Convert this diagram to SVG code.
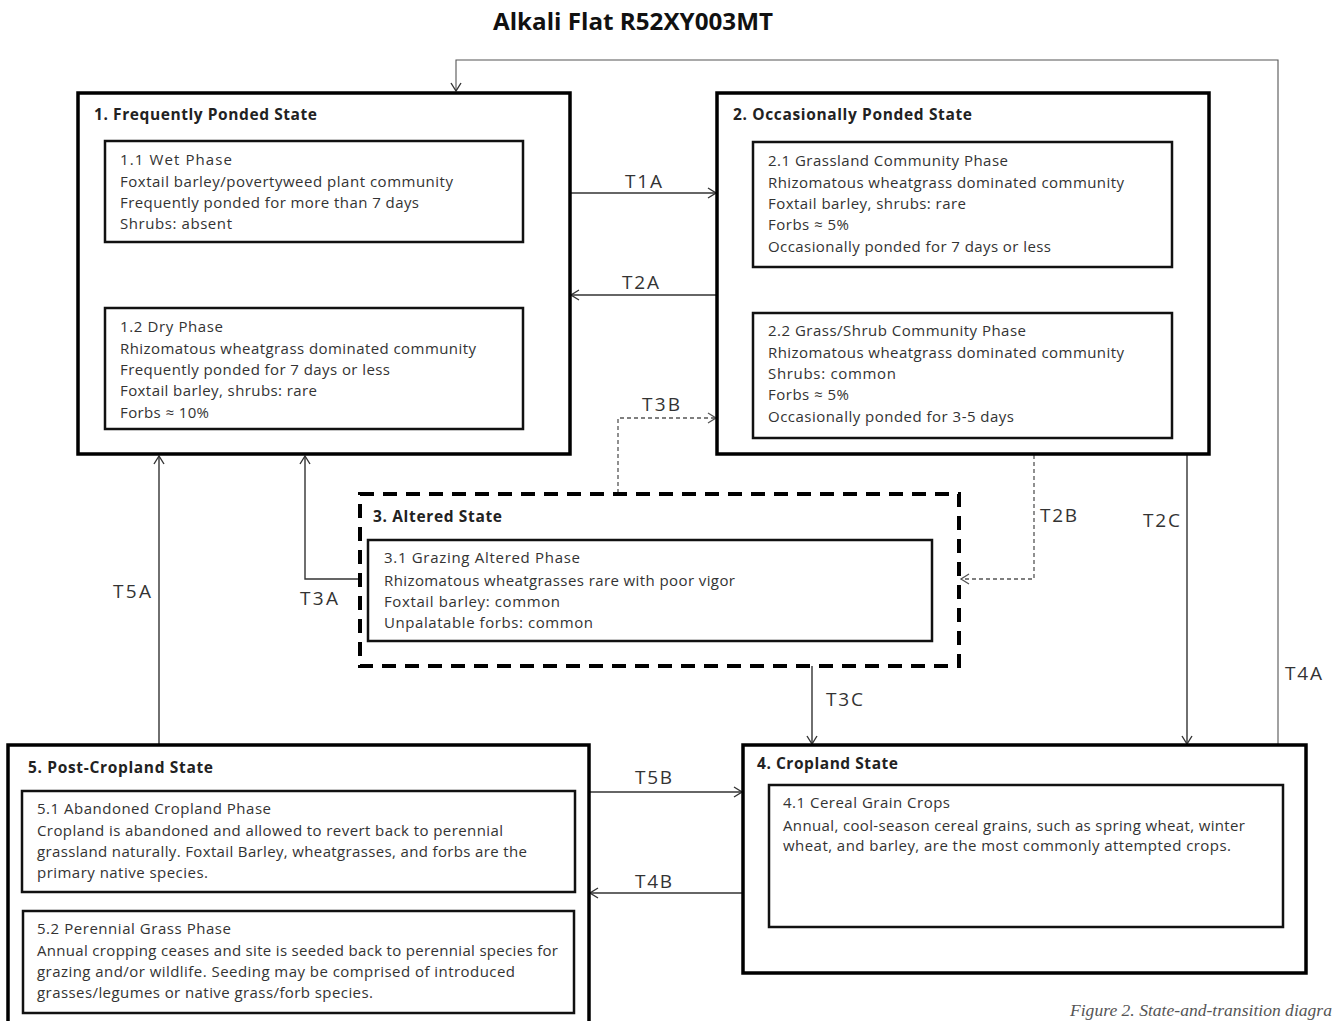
<svg xmlns="http://www.w3.org/2000/svg" width="1336" height="1021" viewBox="0 0 1336 1021">
<style>
  .title { font-family: "Open Sans", "Liberation Sans", sans-serif; font-weight: bold; font-size: 23px; fill: #111; }
  .hdr { font-family: "Open Sans", "Liberation Sans", sans-serif; font-weight: bold; font-size: 15.5px; fill: #222; }
  .txt { font-family: "Open Sans", "Liberation Sans", sans-serif; font-size: 15px; fill: #333; }
  .lbl { font-family: "Open Sans", "Liberation Sans", sans-serif; font-size: 19px; fill: #333; }
  .cap { font-family: "Liberation Serif", serif; font-style: italic; font-size: 17px; fill: #555; }
  .state { fill: #fff; stroke: #000; stroke-width: 3.5; }
  .phase { fill: #fff; stroke: #111; stroke-width: 2.5; }
  .altered { fill: #fff; stroke: #000; stroke-width: 4; stroke-dasharray: 14 9; }
  .conn { fill: none; stroke: #333; stroke-width: 1.4; }
  .dash { fill: none; stroke: #555; stroke-width: 1.3; stroke-dasharray: 4 3; }
  .thin { fill: none; stroke: #555; stroke-width: 1.1; }
</style>
<defs>
  <marker id="arr" markerWidth="12" markerHeight="12" refX="9" refY="6" orient="auto" markerUnits="userSpaceOnUse">
    <path d="M1,1 L9,6 L1,11" fill="none" stroke="#333" stroke-width="1.4"/>
  </marker>
  <marker id="arrd" markerWidth="12" markerHeight="12" refX="9" refY="6" orient="auto" markerUnits="userSpaceOnUse">
    <path d="M1,1 L9,6 L1,11" fill="none" stroke="#555" stroke-width="1.3"/>
  </marker>
</defs>
<rect width="1336" height="1021" fill="#fff"/>
<text class="title" x="493" y="30" textLength="280" lengthAdjust="spacingAndGlyphs">Alkali Flat R52XY003MT</text>

<g id="connectors">
  <path class="conn" d="M570,193 H716" marker-end="url(#arr)"/>
  <path class="conn" d="M717,295 H571" marker-end="url(#arr)"/>
  <path class="dash" d="M618,493 V418 H716" marker-end="url(#arrd)"/>
  <path class="dash" d="M1034,455 V579 H961" marker-end="url(#arrd)"/>
  <path class="conn" d="M1187,455 V744" marker-end="url(#arr)"/>
  <path class="thin" d="M1278,745 V60 H456 V91" marker-end="url(#arr)"/>
  <path class="conn" d="M159,745 V456" marker-end="url(#arr)"/>
  <path class="conn" d="M360,579 H305 V456" marker-end="url(#arr)"/>
  <path class="conn" d="M812,666 V744" marker-end="url(#arr)"/>
  <path class="conn" d="M589,792 H742" marker-end="url(#arr)"/>
  <path class="conn" d="M743,893 H590" marker-end="url(#arr)"/>
  <path class="conn" d="M172,242 V307" marker-end="url(#arr)"/>
  <path class="conn" d="M408,308 V243" marker-end="url(#arr)"/>
  <path class="conn" d="M920,267 V312" marker-end="url(#arr)"/>
  <text class="lbl" x="625" y="188" textLength="37">T1A</text>
  <text class="lbl" x="622" y="289" textLength="37">T2A</text>
  <text class="lbl" x="642" y="411" textLength="38">T3B</text>
  <text class="lbl" x="1040" y="522" textLength="37">T2B</text>
  <text class="lbl" x="1143" y="527" textLength="37">T2C</text>
  <text class="lbl" x="1285" y="680" textLength="37">T4A</text>
  <text class="lbl" x="113" y="598" textLength="38">T5A</text>
  <text class="lbl" x="300" y="605" textLength="38">T3A</text>
  <text class="lbl" x="826" y="706" textLength="37">T3C</text>
  <text class="lbl" x="635" y="784" textLength="37">T5B</text>
  <text class="lbl" x="635" y="888" textLength="37">T4B</text>
  <text class="lbl" x="186" y="284" textLength="36">1.1a</text>
  <text class="lbl" x="421" y="284" textLength="36">1.2a</text>
  <text class="lbl" x="933" y="297" textLength="36">2.1a</text>
</g>

<g id="state1">
  <rect class="state" x="78" y="93" width="492" height="361"/>
  <text class="hdr" x="94" y="120" textLength="223">1. Frequently Ponded State</text>
</g>
<g id="phase1-1">
  <rect class="phase" x="105" y="141" width="418" height="101"/>
  <text class="txt" x="120" y="165" textLength="112">1.1  Wet Phase</text>
  <text class="txt" x="120" y="187" textLength="333">Foxtail barley/povertyweed plant community</text>
  <text class="txt" x="120" y="208" textLength="299">Frequently ponded for more than 7 days</text>
  <text class="txt" x="120" y="229" textLength="112">Shrubs: absent</text>
</g>
<g id="phase1-2">
  <rect class="phase" x="105" y="308" width="418" height="121"/>
  <text class="txt" x="120" y="332" textLength="103">1.2 Dry Phase</text>
  <text class="txt" x="120" y="354" textLength="356">Rhizomatous wheatgrass dominated community</text>
  <text class="txt" x="120" y="375" textLength="270">Frequently ponded for 7 days or less</text>
  <text class="txt" x="120" y="396" textLength="197">Foxtail barley, shrubs: rare</text>
  <text class="txt" x="120" y="418" textLength="89">Forbs ≈ 10%</text>
</g>

<g id="state2">
  <rect class="state" x="717" y="93" width="492" height="361"/>
  <text class="hdr" x="733" y="120" textLength="239">2. Occasionally  Ponded State</text>
</g>
<g id="phase2-1">
  <rect class="phase" x="753" y="142" width="419" height="125"/>
  <text class="txt" x="768" y="166" textLength="240">2.1 Grassland Community Phase</text>
  <text class="txt" x="768" y="188" textLength="356">Rhizomatous wheatgrass dominated community</text>
  <text class="txt" x="768" y="209" textLength="198">Foxtail barley, shrubs: rare</text>
  <text class="txt" x="768" y="230" textLength="81">Forbs ≈ 5%</text>
  <text class="txt" x="768" y="252" textLength="283">Occasionally ponded for 7 days or less</text>
</g>
<g id="phase2-2">
  <rect class="phase" x="753" y="313" width="419" height="125"/>
  <text class="txt" x="768" y="336" textLength="258">2.2 Grass/Shrub Community Phase</text>
  <text class="txt" x="768" y="358" textLength="356">Rhizomatous wheatgrass dominated community</text>
  <text class="txt" x="768" y="379" textLength="128">Shrubs: common</text>
  <text class="txt" x="768" y="400" textLength="81">Forbs ≈ 5%</text>
  <text class="txt" x="768" y="422" textLength="246">Occasionally ponded for 3-5 days</text>
</g>

<g id="state3">
  <rect class="altered" x="360" y="494" width="599" height="172"/>
  <text class="hdr" x="373" y="522" textLength="129">3. Altered State</text>
</g>
<g id="phase3-1">
  <rect class="phase" x="368" y="540" width="564" height="101"/>
  <text class="txt" x="384" y="563" textLength="196">3.1  Grazing Altered Phase</text>
  <text class="txt" x="384" y="586" textLength="351">Rhizomatous wheatgrasses rare with poor vigor</text>
  <text class="txt" x="384" y="607" textLength="176">Foxtail barley: common</text>
  <text class="txt" x="384" y="628" textLength="209">Unpalatable forbs: common</text>
</g>

<g id="state4">
  <rect class="state" x="743" y="745" width="563" height="228"/>
  <text class="hdr" x="757" y="769" textLength="141">4. Cropland State</text>
</g>
<g id="phase4-1">
  <rect class="phase" x="769" y="785" width="514" height="142"/>
  <text class="txt" x="783" y="808" textLength="167">4.1 Cereal Grain Crops</text>
  <text class="txt" x="783" y="831" textLength="462">Annual, cool-season cereal grains, such as spring wheat, winter</text>
  <text class="txt" x="783" y="851" textLength="448">wheat, and barley, are the most commonly attempted crops.</text>
</g>

<g id="state5">
  <rect class="state" x="8" y="745" width="581" height="290"/>
  <text class="hdr" x="28" y="773" textLength="185">5. Post-Cropland  State</text>
</g>
<g id="phase5-1">
  <rect class="phase" x="22" y="791" width="553" height="101"/>
  <text class="txt" x="37" y="814" textLength="234">5.1 Abandoned Cropland Phase</text>
  <text class="txt" x="37" y="836" textLength="466">Cropland is abandoned and allowed to revert back to perennial</text>
  <text class="txt" x="37" y="857" textLength="490">grassland naturally. Foxtail Barley, wheatgrasses, and forbs are the</text>
  <text class="txt" x="37" y="878" textLength="171">primary native species.</text>
</g>
<g id="phase5-2">
  <rect class="phase" x="23" y="911" width="551" height="102"/>
  <text class="txt" x="37" y="934" textLength="194">5.2 Perennial Grass Phase</text>
  <text class="txt" x="37" y="956" textLength="521">Annual cropping ceases and site is seeded back to perennial species for</text>
  <text class="txt" x="37" y="977" textLength="478">grazing and/or wildlife. Seeding may be comprised of introduced</text>
  <text class="txt" x="37" y="998" textLength="336">grasses/legumes or native grass/forb species.</text>
</g>

<text class="cap" x="1070" y="1016" textLength="262" lengthAdjust="spacingAndGlyphs">Figure 2. State-and-transition diagra</text>
</svg>
